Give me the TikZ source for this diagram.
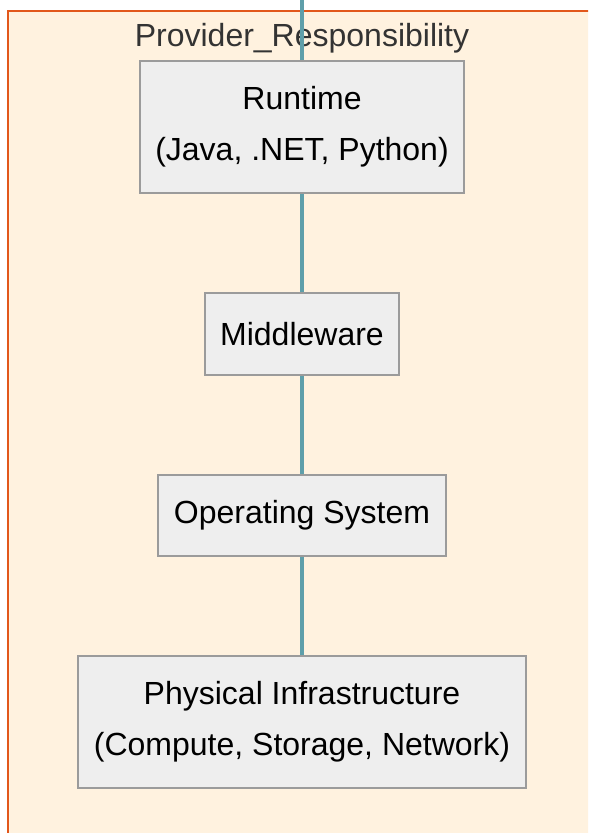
\documentclass[tikz,border=0pt]{standalone}
\usepackage{fontspec}
\setmainfont{Liberation Sans}
\definecolor{clfill}{HTML}{FFF2DF}
\definecolor{clborder}{HTML}{E2571B}
\definecolor{edgecol}{HTML}{5F9FAA}
\definecolor{boxfill}{HTML}{EEEEEE}
\definecolor{boxline}{HTML}{9B9B9B}
\definecolor{titlecol}{HTML}{333333}
\begin{document}
\begin{tikzpicture}[x=0.5pt,y=-0.5pt,
  box/.style={draw=boxline, fill=boxfill, line width=0.8pt, inner sep=0pt, align=center, font=\fontsize{16}{25.5}\selectfont},
  link/.style={draw=edgecol, line width=1.9pt}]
\useasboundingbox (0,0) rectangle (588,833);
\clip (0,0) rectangle (588,833);
\draw[draw=clborder, fill=clfill, line width=1.25pt] (8,11) rectangle (640,880);
\node[text=titlecol, font=\fontsize{16}{19}\selectfont, anchor=base, inner sep=0pt] (title) at (302,47) {Provider\_Responsibility};
\coordinate (topend) at (302,0);
\node[box, minimum width=162pt, minimum height=66pt] (runtime) at (302,127) {Runtime\\(Java, .NET, Python)};
\node[box, minimum width=97pt, minimum height=41pt] (middleware) at (302,334) {Middleware};
\node[box, minimum width=144pt, minimum height=40.5pt] (os) at (302,515.5) {Operating System};
\node[box, minimum width=224pt, minimum height=66pt] (phys) at (302,722) {Physical Infrastructure\\(Compute, Storage, Network)};
\draw[link] (topend) -- (runtime.north);
\draw[link] (runtime) -- (middleware);
\draw[link] (middleware) -- (os);
\draw[link] (os) -- (phys);
\end{tikzpicture}
\end{document}
